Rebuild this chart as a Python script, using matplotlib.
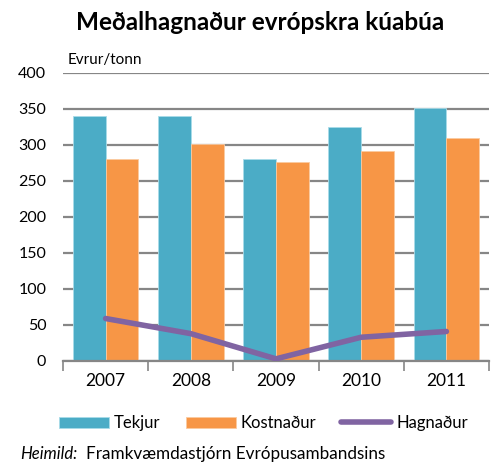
import matplotlib.pyplot as plt
import numpy as np

plt.rcParams['font.family'] = ['Lato', 'DejaVu Sans']

# gildi lesin af myndinni
years = ['2007', '2008', '2009', '2010', '2011']
tekjur = [340, 340, 280, 325, 352]
kostnadur = [281, 302, 277, 292, 310]
hagnadur = [59, 38, 3, 33, 41]

c_tek = '#4BACC6'
c_kos = '#F79646'
c_hag = '#8064A2'

fig = plt.figure(figsize=(4.99, 4.62), dpi=100)
ax = fig.add_axes([63/499, 1-361/462, (489-63)/499, (361-73)/462])

x = np.arange(len(years))
w = 0.385
b1 = ax.bar(x - w/2, tekjur, w, color=c_tek, edgecolor='#a8dbe8', linewidth=0.6, label='Tekjur', zorder=2)
b2 = ax.bar(x + w/2, kostnadur, w, color=c_kos, edgecolor='#fbcaa0', linewidth=0.6, label='Kostnaður', zorder=2)
l1, = ax.plot(x, hagnadur, color=c_hag, linewidth=4, solid_capstyle='round', label='Hagnaður', zorder=3)

ax.set_xlim(-0.5, len(years) - 0.5)
ax.set_ylim(0, 400)
ax.set_yticks(range(0, 401, 50))
ax.yaxis.grid(True, color='#868686', linewidth=1.6, zorder=0)
ax.set_axisbelow(True)

# x-ás: merki milli flokka
ax.set_xticks(np.arange(-0.5, len(years), 1))
ax.set_xticklabels([])
ax.set_xticks(x, minor=True)
ax.set_xticklabels(years, minor=True)
ax.tick_params(axis='x', which='major', length=7, width=1.2, color='#868686', direction='out')
ax.tick_params(axis='x', which='minor', length=0, pad=9, labelsize=12.5)
ax.tick_params(axis='y', length=0, pad=12, labelsize=11.5)

for s in ['top', 'right', 'left']:
    ax.spines[s].set_visible(False)
ax.spines['bottom'].set_color('#868686')
ax.spines['bottom'].set_linewidth(1.6)

fig.text(0.522, 1-22/462, 'Meðalhagnaður evrópskra kúabúa', ha='center', va='center',
         fontsize=17.5, fontweight='bold')
fig.text(68/499, 1-60/462, 'Evrur/tonn', ha='left', va='center', fontsize=11)

fig.legend(handles=[b1, b2, l1], loc='center', bbox_to_anchor=(0.528, 1-423/462), ncol=3,
           frameon=False, fontsize=12, handlelength=3.0, handleheight=0.65,
           handletextpad=0.3, columnspacing=1.5)

fig.text(20/499, 1-454/462, 'Heimild:', ha='left', va='center', fontsize=12, style='italic')
fig.text(86/499, 1-454/462, 'Framkvæmdastjórn Evrópusambandsins', ha='left', va='center', fontsize=12.3)

plt.savefig('out.png', dpi=100)
